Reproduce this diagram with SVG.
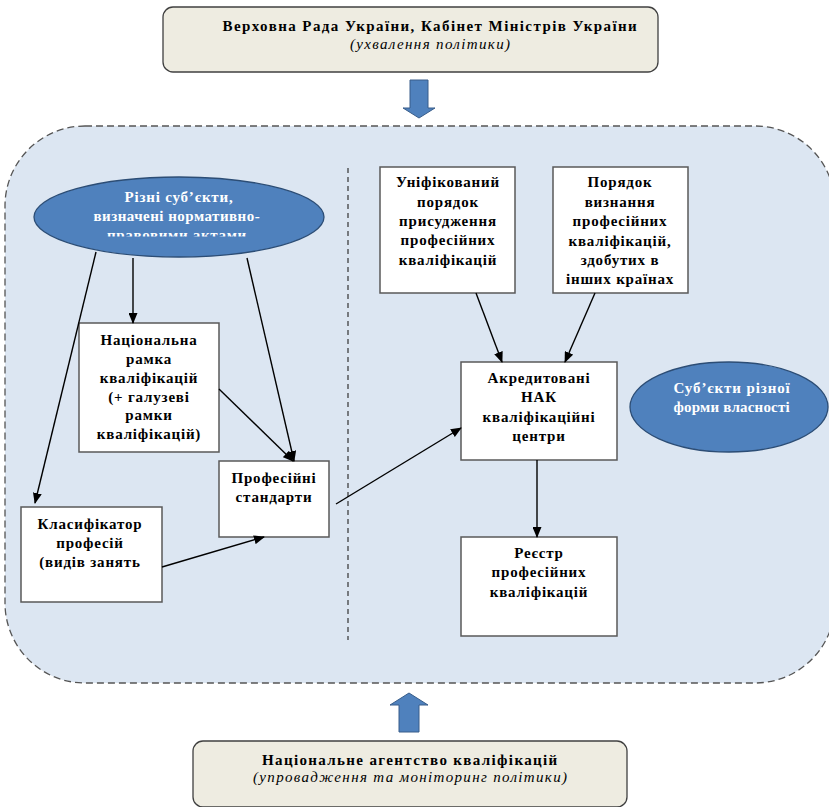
<svg xmlns="http://www.w3.org/2000/svg" width="829" height="807" viewBox="0 0 829 807">
<defs>
<style>
.box{fill:#fff;stroke:#595959;stroke-width:1.5}
.pbox{fill:#eeece1;stroke:#404040;stroke-width:1.3}
.ell{fill:#4f81bd;stroke:#2c4d75;stroke-width:1.3}
.blk{fill:#4f81bd;stroke:#385d8a;stroke-width:1}
.t{font-family:"Liberation Serif","Times New Roman",serif;font-weight:bold;font-size:15px;fill:#000;text-anchor:middle;letter-spacing:0.8px}
.w{fill:#fff}
.ti{font-family:"Liberation Serif","Times New Roman",serif;font-style:italic;font-size:15px;fill:#000;text-anchor:middle}
.c{stroke:#000;stroke-width:1.4;fill:none;marker-end:url(#ah)}
</style>
<marker id="ah" markerUnits="userSpaceOnUse" markerWidth="11" markerHeight="9" refX="10" refY="4.5" orient="auto">
<path d="M0,0 L11,4.5 L0,9 z" fill="#000"/>
</marker>
<clipPath id="clipE"><rect x="30" y="170" width="300" height="66.5"/></clipPath>
</defs>

<rect id="container" x="5" y="126" width="830" height="557" rx="80" ry="80" fill="#dce6f2" stroke="#555" stroke-width="1.3" stroke-dasharray="7,4"/>
<line id="divider" x1="348" y1="168" x2="348" y2="640" stroke="#333" stroke-width="1.2" stroke-dasharray="5,4"/>

<g id="top">
<rect class="pbox" x="163" y="7" width="495" height="65" rx="10" ry="10"/>
<text class="t" x="430" y="31" textLength="415" lengthAdjust="spacing">Верховна Рада України, Кабінет Міністрів України</text>
<text class="ti" x="430" y="49" textLength="160" lengthAdjust="spacing">(ухвалення політики)</text>
</g>
<g id="arrowDown">
<path class="blk" d="M410,80 L428,80 L428,108 L435,108 L419,118 L403,108 L410,108 z"/>
</g>

<g id="bottom">
<rect class="pbox" x="193" y="741" width="434" height="66" rx="10" ry="10"/>
<text class="t" x="410" y="765" textLength="296" lengthAdjust="spacing">Національне агентство кваліфікацій</text>
<text class="ti" x="410" y="782" textLength="314" lengthAdjust="spacing">(упровадження та моніторинг політики)</text>
</g>
<g id="arrowUp">
<path class="blk" d="M409,693 L428,705 L419,705 L419,732 L399,732 L399,705 L390,705 z"/>
</g>

<g id="subjects">
<ellipse class="ell" cx="179" cy="217" rx="145" ry="40"/>
<g clip-path="url(#clipE)">
<text class="t w" x="179" y="202">Різні суб’єкти,</text>
<text class="t w" x="177" y="221" textLength="167" lengthAdjust="spacing">визначені нормативно-</text>
<text class="t w" x="177" y="240" textLength="140" lengthAdjust="spacing">правовими актами</text>
</g>
</g>

<g id="nrk">
<rect class="box" x="79" y="323" width="140" height="129"/>
<text class="t" x="149" y="345">Національна</text>
<text class="t" x="149" y="364">рамка</text>
<text class="t" x="149" y="383">кваліфікацій</text>
<text class="t" x="149" y="402">(+ галузеві</text>
<text class="t" x="149" y="420">рамки</text>
<text class="t" x="149" y="439">кваліфікацій)</text>
</g>

<g id="standards">
<rect class="box" x="219" y="461" width="110" height="76"/>
<text class="t" x="274" y="483">Професійні</text>
<text class="t" x="274" y="502">стандарти</text>
</g>

<g id="classifier">
<rect class="box" x="21" y="507" width="141" height="95"/>
<text class="t" x="90" y="529">Класифікатор</text>
<text class="t" x="90" y="548">професій</text>
<text class="t" x="90" y="567">(видів занять</text>
</g>

<g id="unified">
<rect class="box" x="380" y="167" width="135" height="126"/>
<text class="t" x="448" y="187">Уніфікований</text>
<text class="t" x="448" y="207">порядок</text>
<text class="t" x="448" y="226">присудження</text>
<text class="t" x="448" y="245">професійних</text>
<text class="t" x="448" y="265">кваліфікацій</text>
</g>

<g id="recognition">
<rect class="box" x="553" y="167" width="135" height="126"/>
<text class="t" x="620" y="187">Порядок</text>
<text class="t" x="620" y="207">визнання</text>
<text class="t" x="620" y="226">професійних</text>
<text class="t" x="620" y="246">кваліфікацій,</text>
<text class="t" x="620" y="265">здобутих в</text>
<text class="t" x="620" y="284">інших країнах</text>
</g>

<g id="centres">
<rect class="box" x="461" y="362" width="156" height="98"/>
<text class="t" x="539" y="383">Акредитовані</text>
<text class="t" x="539" y="402">НАК</text>
<text class="t" x="539" y="422">кваліфікаційні</text>
<text class="t" x="539" y="441">центри</text>
</g>

<g id="register">
<rect class="box" x="461" y="537" width="156" height="99"/>
<text class="t" x="539" y="558">Реєстр</text>
<text class="t" x="539" y="577">професійних</text>
<text class="t" x="539" y="597">кваліфікацій</text>
</g>

<g id="owners">
<ellipse class="ell" cx="729" cy="407" rx="99" ry="45"/>
<text class="t w" x="732" y="393" textLength="117" lengthAdjust="spacing">Суб’єкти різної</text>
<text class="t w" x="732" y="412" textLength="117" lengthAdjust="spacing">форми власності</text>
</g>

<g id="connectors">
<line class="c" x1="96" y1="252" x2="35" y2="503"/>
<line class="c" x1="133" y1="258" x2="133" y2="323"/>
<line class="c" x1="247" y1="258" x2="294" y2="461"/>
<line class="c" x1="219" y1="389" x2="293" y2="461"/>
<line class="c" x1="162" y1="567" x2="264" y2="537"/>
<line class="c" x1="336" y1="504" x2="461" y2="428"/>
<line class="c" x1="476" y1="293" x2="502" y2="362"/>
<line class="c" x1="595" y1="293" x2="565" y2="362"/>
<line class="c" x1="537" y1="460" x2="537" y2="537"/>
</g>
</svg>
